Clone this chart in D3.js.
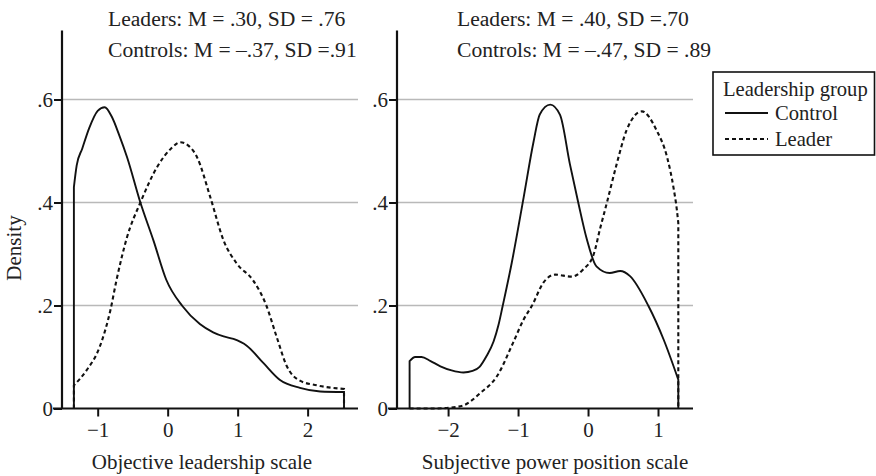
<!DOCTYPE html>
<html><head><meta charset="utf-8">
<script src="https://cdn.jsdelivr.net/npm/d3@7"></script>
<style>
html,body{margin:0;padding:0;background:#fff;}
svg{display:block;}
text{font-family:"Liberation Serif","Times New Roman",serif;fill:#222;}
</style></head>
<body>
<script>
// ---------- data ----------
const yTicks = [0, 0.2, 0.4, 0.6];
const yTickLabels = ["0", ".2", ".4", ".6"];
const leftXTicks = [-1, 0, 1, 2];
const rightXTicks = [-2, -1, 0, 1];
const xTickLabels = {"-2":"\u22122","-1":"\u22121","0":"0","1":"1","2":"2"};

const leftTitle = "Objective leadership scale";
const rightTitle = "Subjective power position scale";
const leftNotes = ["Leaders: M = .30, SD = .76", "Controls: M = \u2013.37, SD =.91"];
const rightNotes = ["Leaders: M = .40, SD =.70", "Controls: M = \u2013.47, SD = .89"];
const legendTitle = "Leadership group";
const groups = ["Control", "Leader"];

// [x, density]
const leftControl = [[-1.34,0.43],[-1.3,0.472],[-1.22,0.505],[-1.12,0.545],[-1.0,0.578],[-0.9,0.585],
 [-0.8,0.567],[-0.69,0.53],[-0.58,0.488],[-0.39,0.40],[-0.2,0.325],[-0.02,0.25],[0.21,0.199],[0.46,0.164],
 [0.65,0.148],[0.8,0.14],[0.94,0.135],[1.13,0.122],[1.37,0.088],[1.6,0.056],[1.89,0.04],[2.18,0.033],[2.52,0.032]];
const leftLeader = [[-1.34,0.045],[-1.16,0.074],[-0.97,0.12],[-0.82,0.19],[-0.73,0.25],[-0.58,0.333],
 [-0.39,0.40],[-0.15,0.469],[0.05,0.505],[0.18,0.517],[0.3,0.51],[0.42,0.488],[0.61,0.41],[0.80,0.326],
 [0.99,0.281],[1.22,0.249],[1.41,0.2],[1.56,0.138],[1.70,0.083],[1.89,0.054],[2.13,0.045],[2.52,0.038]];
const rightControl = [[-2.55,0.092],[-2.47,0.10],[-2.38,0.10],[-2.25,0.092],[-2.11,0.082],[-1.95,0.074],
 [-1.78,0.070],[-1.65,0.073],[-1.55,0.081],[-1.45,0.102],[-1.35,0.13],[-1.28,0.162],[-1.22,0.199],[-1.09,0.283],
 [-0.92,0.41],[-0.78,0.517],[-0.69,0.571],[-0.54,0.59],[-0.4,0.57],[-0.26,0.475],[-0.14,0.40],
 [-0.02,0.33],[0.12,0.276],[0.31,0.263],[0.46,0.267],[0.6,0.257],[0.86,0.20],[1.08,0.134],[1.29,0.056]];
const rightLeader = [[-2.55,0.0],[-2.2,0.0],[-1.95,0.002],[-1.78,0.006],[-1.54,0.03],[-1.30,0.063],
 [-1.07,0.128],[-0.92,0.173],[-0.80,0.20],[-0.64,0.244],[-0.47,0.26],[-0.23,0.256],[-0.07,0.27],
 [0.08,0.299],[0.17,0.348],[0.27,0.40],[0.41,0.475],[0.55,0.54],[0.77,0.577],[0.98,0.54],
 [1.13,0.488],[1.22,0.43],[1.27,0.385],[1.29,0.36]];

// ---------- drawing ----------
const W = 876, H = 476;
const svg = d3.select("body").append("svg").attr("width", W).attr("height", H);
const FS = 21;

const yScale = d3.scaleLinear().domain([0, 0.734]).range([408.5, 30.5]);

const panels = [
  {x0: 62, x1: 358, domain: [-1.51, 2.72], ticks: leftXTicks, title: leftTitle, titleX: 202,
   notes: leftNotes, noteX: 108, series: [leftControl, leftLeader]},
  {x0: 397, x1: 693, domain: [-2.73, 1.5], ticks: rightXTicks, title: rightTitle, titleX: 555,
   notes: rightNotes, noteX: 457, series: [rightControl, rightLeader]}
];

const styles = [{dash: null}, {dash: "4,3"}];

panels.forEach(p => {
  const x = d3.scaleLinear().domain(p.domain).range([p.x0, p.x1]);
  const g = svg.append("g");

  // gridlines
  g.selectAll("line.grid").data(yTicks.filter(d => d > 0)).join("line")
    .attr("x1", p.x0).attr("x2", p.x1)
    .attr("y1", d => yScale(d)).attr("y2", d => yScale(d))
    .attr("stroke", "#b9b9b9").attr("stroke-width", 1.5);

  // curves
  p.series.forEach((pts, i) => {
    const line = d3.line().x(d => x(d[0])).y(d => yScale(d[1])).curve(d3.curveMonotoneX);
    const first = pts[0], last = pts[pts.length - 1];
    const d = "M" + x(first[0]) + "," + yScale(0) + "L" + line(pts).slice(1) +
              "L" + x(last[0]) + "," + yScale(0);
    g.append("path").attr("d", d).attr("fill", "none").attr("stroke", "#111")
      .attr("stroke-width", i === 0 ? 1.9 : 2.1)
      .attr("stroke-dasharray", styles[i].dash);
  });

  // y axis
  const yAxis = d3.axisLeft(yScale).tickValues(yTicks).tickSize(8)
    .tickFormat((d, i) => yTickLabels[i]);
  const ya = g.append("g").attr("transform", `translate(${p.x0},0)`).call(yAxis);
  ya.select(".domain").remove();
  ya.append("line").attr("x1", 0).attr("x2", 0).attr("y1", yScale.range()[0]).attr("y2", yScale.range()[1])
    .attr("stroke", "#111").attr("stroke-width", 2.2);
  ya.selectAll(".tick line").attr("stroke", "#111").attr("stroke-width", 2);
  ya.selectAll(".tick text").attr("font-size", FS).attr("fill", "#222")
    .attr("font-family", "Liberation Serif").attr("x", -9).attr("dy", "0.34em");

  // x axis
  const xAxis = d3.axisBottom(x).tickValues(p.ticks).tickSize(8)
    .tickFormat(d => xTickLabels[String(d)]);
  const xa = g.append("g").attr("transform", `translate(0,${yScale(0)})`).call(xAxis);
  xa.select(".domain").remove();
  xa.append("line").attr("x1", p.x0 - 9).attr("x2", p.x1).attr("y1", 0).attr("y2", 0)
    .attr("stroke", "#111").attr("stroke-width", 2.2);
  xa.selectAll(".tick line").attr("stroke", "#111").attr("stroke-width", 2);
  xa.selectAll(".tick text").attr("font-size", FS).attr("fill", "#222")
    .attr("font-family", "Liberation Serif").attr("y", 14).attr("dy", "0.71em");

  // axis title
  g.append("text").attr("x", p.titleX).attr("y", 469).attr("text-anchor", "middle")
    .attr("font-size", FS).text(p.title);

  // notes
  g.selectAll("text.note").data(p.notes).join("text").attr("class", "note")
    .attr("x", p.noteX).attr("y", (d, i) => 26 + i * 31).attr("font-size", 21.6).text(d => d);
});

// y title
svg.append("text").attr("transform", "translate(21,248) rotate(-90)").attr("text-anchor", "middle")
  .attr("font-size", FS).text("Density");

// legend
const lg = svg.append("g");
lg.append("rect").attr("x", 713).attr("y", 72).attr("width", 161.5).attr("height", 83)
  .attr("fill", "#fff").attr("stroke", "#111").attr("stroke-width", 1.6);
lg.append("text").attr("x", 723).attr("y", 96).attr("font-size", 20.6).text(legendTitle);
groups.forEach((name, i) => {
  const yy = 113 + i * 26;
  lg.append("line").attr("x1", 725).attr("x2", 768).attr("y1", yy).attr("y2", yy)
    .attr("stroke", "#111").attr("stroke-width", i === 0 ? 1.9 : 2.1)
    .attr("stroke-dasharray", styles[i].dash);
  lg.append("text").attr("x", 775).attr("y", yy + 7).attr("font-size", 20.6).text(name);
});
</script>
</body></html>
